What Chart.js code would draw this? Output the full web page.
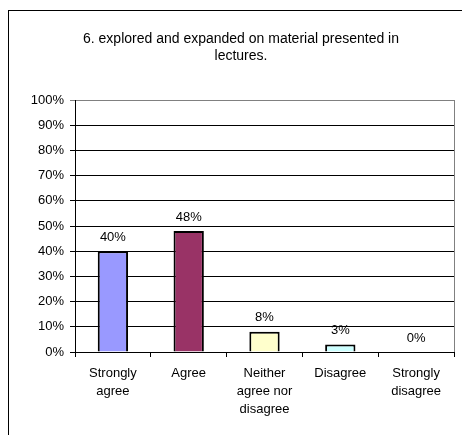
<!DOCTYPE html>
<html>
<head>
<meta charset="utf-8">
<script src="https://cdn.jsdelivr.net/npm/chart.js@4/dist/chart.umd.min.js"></script>
<style>
  html, body { margin: 0; padding: 0; background: #fff; }
  #wrap { width: 462px; height: 435px; }
</style>
</head>
<body>
<div id="wrap"><canvas id="chart" width="462" height="435"></canvas></div>
<script>
const titleLines = ["6. explored and expanded on material presented in", "lectures."];
const categories = [["Strongly", "agree"], ["Agree"], ["Neither", "agree nor", "disagree"], ["Disagree"], ["Strongly", "disagree"]];
const percents = [40, 48, 8, 3, 0];
const barColors = ["#9999FF", "#993366", "#FFFFCC", "#CCFFFF", "#FFFFFF"];
const yTicks = [0, 10, 20, 30, 40, 50, 60, 70, 80, 90, 100];

const FONT = "Liberation Sans, Arial, sans-serif";

// frame + title + right plot border
const decor = {
    id: "decor",
    beforeDraw(chart) {
        const c = chart.ctx;
        c.save();
        c.fillStyle = "#fff";
        c.fillRect(0, 0, chart.width, chart.height);
        c.strokeStyle = "#000";
        c.lineWidth = 1;
        c.strokeRect(8.5, 10.5, 600, 600);
        c.fillStyle = "#000";
        c.font = "14px " + FONT;
        c.textAlign = "center";
        c.textBaseline = "middle";
        titleLines.forEach((t, i) => c.fillText(t, 241, 39 + i * 17));
        c.restore();
    },
    afterDraw(chart) {
        const a = chart.chartArea, c = chart.ctx;
        c.save();
        c.strokeStyle = "#808080";
        c.lineWidth = 1;
        c.beginPath();
        c.moveTo(Math.round(a.right) + 0.5, a.top);
        c.lineTo(Math.round(a.right) + 0.5, a.bottom);
        c.stroke();
        // value labels
        const meta = chart.getDatasetMeta(0);
        c.fillStyle = "#000";
        c.font = "13px " + FONT;
        c.textAlign = "center";
        c.textBaseline = "middle";
        meta.data.forEach((bar, i) => {
            c.fillText(percents[i] + "%", bar.x, bar.y - 14);
        });
        c.restore();
    }
};

new Chart(document.getElementById("chart"), {
    type: "bar",
    data: {
        labels: categories,
        datasets: [{
            data: percents,
            backgroundColor: barColors,
            borderColor: "#000",
            borderWidth: 2,
            barPercentage: 0.4,
            categoryPercentage: 1
        }]
    },
    options: {
        responsive: false,
        animation: false,
        layout: { padding: { top: 100, right: 8, left: 0, bottom: 0 } },
        plugins: { legend: { display: false }, tooltip: { enabled: false }, title: { display: false } },
        scales: {
            x: {
                afterFit(s) { s.height = 83; },
                grid: { offset: true, drawOnChartArea: false, drawTicks: true, tickLength: 5, color: "#000" },
                border: { color: "#000" },
                ticks: { color: "#000", font: { family: FONT, size: 13, lineHeight: 1.4 }, padding: 7, maxRotation: 0, autoSkip: false }
            },
            y: {
                min: 0, max: 100,
                afterFit(s) { s.width = 75; },
                afterBuildTicks(s) { s.ticks = yTicks.map(v => ({ value: v })); },
                grid: {
                    color: ctx => (ctx.tick && ctx.tick.value === 100) ? "#808080" : "#000",
                    tickLength: 5, drawTicks: true
                },
                border: { color: "#000" },
                ticks: { color: "#000", font: { family: FONT, size: 13 }, padding: 6, callback: v => v + "%" }
            }
        }
    },
    plugins: [decor]
});
</script>
</body>
</html>
